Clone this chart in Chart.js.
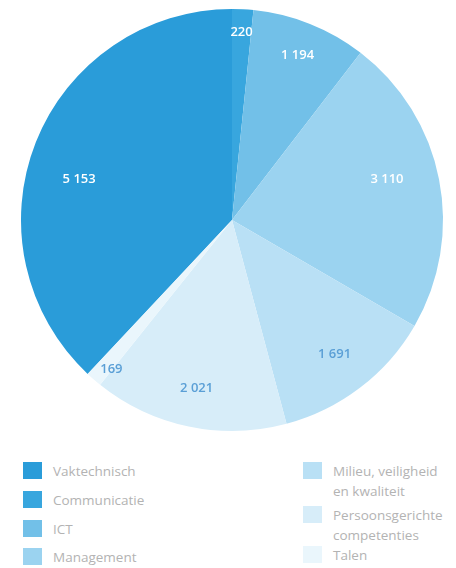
<!DOCTYPE html>
<html>
<head>
<meta charset="utf-8">
<script src="https://cdn.jsdelivr.net/npm/chart.js@4/dist/chart.umd.min.js"></script>
<style>
  html, body { margin: 0; padding: 0; background: #ffffff; }
  #wrap { position: relative; width: 456px; height: 568px; overflow: hidden; }
  #c { position: absolute; left: 0; top: 0; }
  .leg { position: absolute; font-family: "Open Sans", sans-serif; font-size: 13.5px; color: #b3b3b3; line-height: 20px; }
  .leg .sw { position: absolute; left: 0; top: 1px; width: 19px; height: 17px; }
  .leg .tx { position: absolute; left: 30px; top: 0; white-space: nowrap; }
</style>
</head>
<body>
<div id="wrap">
  <canvas id="c" width="456" height="440"></canvas>
  <div id="legend"></div>
</div>
<script>
const categories = ["Vaktechnisch", "Communicatie", "ICT", "Management", "Milieu, veiligheid\nen kwaliteit", "Persoonsgerichte\ncompetenties", "Talen"];
const values = [5153, 220, 1194, 3110, 1691, 2021, 169];
const colors = ["#2a9cd9", "#38a6de", "#72c0e8", "#9bd3f0", "#b9e0f5", "#d7edf9", "#eaf6fc"];
const labelColors = ["#ffffff", "#ffffff", "#ffffff", "#ffffff", "#5a9fd6", "#5a9fd6", "#5a9fd6"];

const total = values.reduce((a, b) => a + b, 0);
const startRotation = -(values[0] / total) * 360;

function fmt(v) {
  return String(v).replace(/\B(?=(\d{3})+(?!\d))/g, " ");
}

const labelPlugin = {
  id: "sliceLabels",
  afterDatasetsDraw(chart, args, opts) {
    const ctx = chart.ctx;
    const meta = chart.getDatasetMeta(0);
    ctx.save();
    ctx.font = opts.font;
    ctx.textAlign = "center";
    ctx.textBaseline = "middle";
    meta.data.forEach((arc, i) => {
      const p = arc.getProps(["x", "y", "startAngle", "endAngle", "outerRadius"], true);
      const mid = (p.startAngle + p.endAngle) / 2 + (opts.angleOffset[i] || 0) * Math.PI / 180;
      const r = p.outerRadius * opts.radius[i];
      ctx.fillStyle = labelColors[i];
      ctx.fillText(fmt(values[i]), p.x + Math.cos(mid) * r, p.y + Math.sin(mid) * r);
    });
    ctx.restore();
  }
};

new Chart(document.getElementById("c"), {
  type: "pie",
  data: {
    labels: categories,
    datasets: [{
      data: values,
      backgroundColor: colors,
      borderWidth: 0
    }]
  },
  options: {
    responsive: false,
    animation: false,
    rotation: startRotation,
    layout: { padding: { left: 21, right: 13, top: 9, bottom: 9 } },
    plugins: {
      legend: { display: false },
      tooltip: { enabled: false },
      sliceLabels: {
        font: "600 13px 'Open Sans', sans-serif",
        radius: [0.75, 0.89, 0.84, 0.76, 0.8, 0.815, 0.91],
        angleOffset: [-6.6, 0, 0, -3.7, 0, 0, -2]
      }
    }
  },
  plugins: [labelPlugin]
});

// HTML legend built from the arrays (two columns)
const legendEl = document.getElementById("legend");
const slots = [
  { left: 23, top: 461 }, { left: 23, top: 490 }, { left: 23, top: 519 }, { left: 23, top: 547 },
  { left: 303, top: 461 }, { left: 303, top: 505 }, { left: 303, top: 545 }
];
categories.forEach((name, i) => {
  const d = document.createElement("div");
  d.className = "leg";
  d.style.left = slots[i].left + "px";
  d.style.top = slots[i].top + "px";
  const sw = document.createElement("div");
  sw.className = "sw";
  sw.style.background = colors[i];
  const tx = document.createElement("div");
  tx.className = "tx";
  tx.innerHTML = name.split("\n").join("<br>");
  d.appendChild(sw);
  d.appendChild(tx);
  legendEl.appendChild(d);
});
</script>
</body>
</html>
